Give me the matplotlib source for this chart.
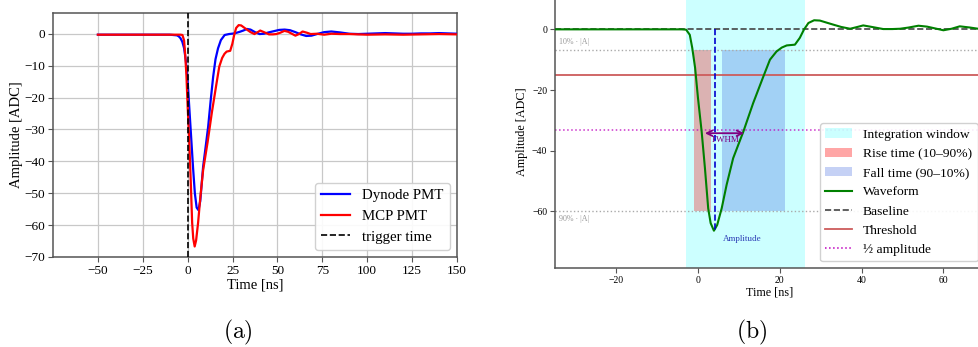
import matplotlib
matplotlib.use("Agg")
import matplotlib.pyplot as plt
from matplotlib.patches import Patch
from matplotlib.lines import Line2D
import numpy as np

plt.rcParams['font.family'] = ['Liberation Serif', 'DejaVu Serif']
plt.rcParams['mathtext.fontset'] = 'cm'

# ---- panel (a): averaged waveforms of the two PMT types ----
dyn_t = [-50, -10, -6, -5, -4, -3, -2, -1, 0, 1, 2, 3, 4, 5, 6, 7, 8.6, 10,
         11.4, 12.8, 14.2, 15.5, 16.9, 18.5, 20.6, 23, 26, 29, 31, 33, 35,
         37.5, 40, 42.5, 45, 48, 51, 54, 57, 60, 63, 66, 69, 72, 76, 80, 85,
         90, 95, 100, 105, 110, 115, 120, 125, 130, 135, 140, 145, 150]
dyn_adc = [-0.3, -0.3, -0.5, -0.8, -1.4, -2.5, -4.5, -8.5, -15, -24, -33, -42,
           -50, -54.5, -55.3, -52.5, -41.7, -35.5, -29.2, -21, -13.5, -8,
           -4.6, -2, -0.4, -0.1, 0.1, 0.6, 1.0, 1.5, 1.3, 0.5, -0.1, 0.0, 0.4,
           0.8, 1.2, 1.3, 1.1, 0.5, -0.2, -0.7, -0.6, -0.1, 0.5, 0.7, 0.4, 0.0,
           -0.1, 0.0, 0.1, 0.2, 0.1, 0.0, 0.0, 0.1, 0.1, 0.2, 0.1, 0.0]

# MCP waveform, baseline subtracted (also used for panel b)
mcp_t = [-50, -10, -4, -2.9, -2, -1.4, -0.7, 0, 0.9, 1.7, 2.5, 3.1, 3.9, 4.7,
         5.8, 7.0, 8.6, 11.1, 13.5, 16.0, 17.6, 19.2, 20.5, 21.7, 23.7, 24.9,
         25.9, 27.0, 28.4, 29.8, 31.5, 33.1, 35, 37.2, 39, 40.4, 42.5, 45.3,
         47.5, 49.4, 51.5, 53.9, 56, 58, 60, 62, 64, 66.5, 68.5, 72, 76, 80,
         85, 90, 100, 110, 120, 130, 140, 150]
mcp_adc = [0, 0, 0, -0.1, -1.8, -6.1, -12.7, -22.6, -33.7, -45.7, -59, -63.9,
           -66.4, -64.5, -59, -51.3, -42.5, -33.7, -24.3, -15.5, -10.0, -7.3,
           -6.0, -5.3, -5.05, -2.8, -0.1, 2.1, 3.0, 2.9, 2.2, 1.55, 0.8, 0.2,
           0.8, 1.3, 0.8, 0.1, 0.1, 0.2, 0.6, 1.2, 0.9, 0.3, -0.3, 0.2, 1.0,
           0.6, 0.2, 0.3, 0.0, 0.3, 0.2, 0.2, 0.0, 0.1, 0.0, 0.1, 0.2, 0.1]
mcp_pedestal = -0.3   # raw baseline seen in panel (a)
trigger_time = 0

# ---- panel (b): pulse parameters ----
amplitude = -66.7
t_peak = 4.1
threshold = -15.0
integ_win = (-3.0, 26.2)
rise_win = (-1.05, 3.2)
fall_win = (5.95, 21.2)
fwhm_win = (1.7, 11.3)

fig = plt.figure(figsize=(9.79, 3.47), dpi=100)

# ======================= (a) =======================
ax = fig.add_axes([53 / 979, 90 / 347, 404 / 979, 244 / 347])
ax.plot(dyn_t, dyn_adc, color='blue', lw=1.6, label='Dynode PMT', zorder=3)
ax.plot(mcp_t, np.array(mcp_adc) + mcp_pedestal, color='red', lw=1.6,
        label='MCP PMT', zorder=4)
ax.axvline(trigger_time, color='black', ls='--', lw=1.2, label='trigger time',
           zorder=5)
ax.set_xlim(-75, 150)
ax.set_ylim(-70, 6.5)
ax.set_xticks(np.arange(-50, 151, 25))
ax.set_yticks(np.arange(-70, 1, 10))
ax.grid(True, color='#c8c8c8', lw=0.9)
ax.set_axisbelow(True)
for s in ax.spines.values():
    s.set_color('#555555')
    s.set_linewidth(1.1)
ax.tick_params(labelsize=9.5, color='#555555', pad=2)
ax.set_xlabel('Time [ns]', fontsize=10.5, labelpad=1)
ax.set_ylabel('Amplitude [ADC]', fontsize=10.5, labelpad=1)
ax.legend(loc='lower right', fontsize=10.7, framealpha=0.9,
          edgecolor='#cccccc')

# ======================= (b) =======================
bx = fig.add_axes([554.8 / 979, 79 / 347, 429.5 / 979, 272 / 347])
bx.axvspan(*integ_win, color='cyan', alpha=0.2, lw=0, zorder=0)
bx.fill_between(rise_win, 0.1 * amplitude, 0.9 * amplitude, color='red',
                alpha=0.3, lw=0, zorder=1)
bx.fill_between(fall_win, 0.1 * amplitude, 0.9 * amplitude, color='royalblue',
                alpha=0.3, lw=0, zorder=1)
bx.axhline(0.1 * amplitude, color='#aaaaaa', ls=':', lw=1, zorder=1)
bx.axhline(0.9 * amplitude, color='#aaaaaa', ls=':', lw=1, zorder=1)
bx.axhline(threshold, color='indianred', lw=1.3, zorder=2)
bx.axhline(amplitude / 2, color='m', ls=':', lw=1.1, alpha=0.8, zorder=2)
bx.axhline(0, color='#444444', ls='--', lw=1.2, zorder=3)
bx.plot(mcp_t, mcp_adc, color='green', lw=1.5, zorder=4)
bx.plot([t_peak, t_peak], [0, amplitude], color='mediumblue', ls='--', lw=1.2,
        zorder=5)
bx.annotate('', xy=(fwhm_win[0], amplitude / 2 - 0.9),
            xytext=(fwhm_win[1], amplitude / 2 - 0.9),
            arrowprops=dict(arrowstyle='<->', color='purple', lw=1.3,
                            shrinkA=0, shrinkB=0), zorder=6)
bx.text(sum(fwhm_win) / 2 + 0.2, amplitude / 2 - 3.0, 'FWHM', color='purple',
        fontsize=6.5, ha='center', va='center')
bx.text(t_peak + 6.7, amplitude - 2.3, 'Amplitude', color='#2b3bb5',
        fontsize=6.5, ha='center', va='center')
bx.text(-34, 0.1 * amplitude + 2.6, '10% · |A|', color='#999999',
        fontsize=5.8, ha='left', va='center')
bx.text(-34, 0.9 * amplitude - 2.6, '90% · |A|', color='#999999',
        fontsize=5.8, ha='left', va='center')
bx.set_xlim(-35, 70)
bx.set_ylim(-78.7, 11)
bx.set_xticks([-20, 0, 20, 40, 60])
bx.set_yticks([-60, -40, -20, 0])
bx.spines['top'].set_visible(False)
bx.spines['right'].set_visible(False)
for s in ('left', 'bottom'):
    bx.spines[s].set_color('#555555')
    bx.spines[s].set_linewidth(1.1)
bx.tick_params(labelsize=7, color='#555555', pad=2)
bx.set_xlabel('Time [ns]', fontsize=8.7, labelpad=1)
bx.set_ylabel('Amplitude [ADC]', fontsize=8.7, labelpad=3)

handles = [
    Patch(facecolor='cyan', alpha=0.2, label='Integration window'),
    Patch(facecolor='red', alpha=0.35, label='Rise time (10–90%)'),
    Patch(facecolor='royalblue', alpha=0.3, label='Fall time (90–10%)'),
    Line2D([], [], color='green', lw=1.5, label='Waveform'),
    Line2D([], [], color='#444444', ls='--', lw=1.2, label='Baseline'),
    Line2D([], [], color='indianred', lw=1.3, label='Threshold'),
    Line2D([], [], color='m', ls=':', lw=1.1, label='½ amplitude'),
]
bx.legend(handles=handles, loc='lower right', fontsize=9.7, framealpha=0.9,
          edgecolor='#cccccc', borderaxespad=0.5)

fig.text(238 / 979, 1 - 332.5 / 347, r'$(\mathrm{a})$', fontsize=17,
         ha='center', va='center')
fig.text(752 / 979, 1 - 332 / 347, r'$(\mathrm{b})$', fontsize=17,
         ha='center', va='center')

fig.savefig('out.png', dpi=100)
